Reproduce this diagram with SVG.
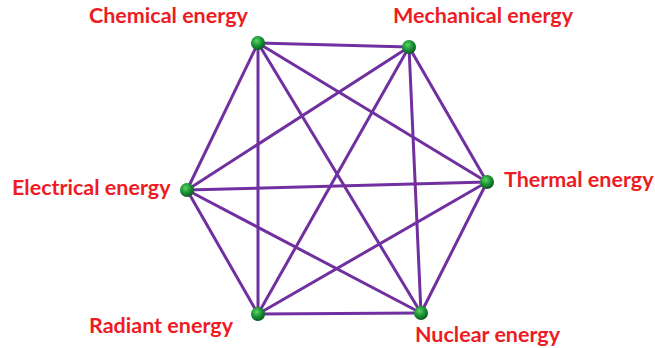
<svg xmlns="http://www.w3.org/2000/svg" width="655" height="348" viewBox="0 0 655 348">
<defs>
<radialGradient id="g" cx="0.4" cy="0.35" r="0.65">
<stop offset="0" stop-color="#5fd35f"/>
<stop offset="0.5" stop-color="#1e9a3a"/>
<stop offset="1" stop-color="#0b5a1e"/>
</radialGradient>
</defs>
<style>
.e{stroke:#7030a0;stroke-width:3;fill:none}
.n{fill:url(#g)}
.t{font-family:Lato,"Open Sans",sans-serif;font-weight:bold;font-size:21.5px;fill:#ed1c24}
</style>
<g id="connectors">
<line class="e" x1="258" y1="43" x2="409" y2="47"/>
<line class="e" x1="258" y1="43" x2="187" y2="190"/>
<line class="e" x1="258" y1="43" x2="487" y2="182"/>
<line class="e" x1="258" y1="43" x2="258" y2="314"/>
<line class="e" x1="258" y1="43" x2="421" y2="313"/>
<line class="e" x1="409" y1="47" x2="187" y2="190"/>
<line class="e" x1="409" y1="47" x2="487" y2="182"/>
<line class="e" x1="409" y1="47" x2="258" y2="314"/>
<line class="e" x1="409" y1="47" x2="421" y2="313"/>
<line class="e" x1="187" y1="190" x2="487" y2="182"/>
<line class="e" x1="187" y1="190" x2="258" y2="314"/>
<line class="e" x1="187" y1="190" x2="421" y2="313"/>
<line class="e" x1="487" y1="182" x2="258" y2="314"/>
<line class="e" x1="487" y1="182" x2="421" y2="313"/>
<line class="e" x1="258" y1="314" x2="421" y2="313"/>
</g>
<g id="chemical"><circle class="n" cx="258" cy="43" r="7"/><text class="t" x="89" y="23">Chemical energy</text></g>
<g id="mechanical"><circle class="n" cx="409" cy="47" r="7"/><text class="t" x="393" y="23">Mechanical energy</text></g>
<g id="electrical"><circle class="n" cx="187" cy="190" r="7"/><text class="t" x="12" y="195">Electrical energy</text></g>
<g id="thermal"><circle class="n" cx="487" cy="182" r="7"/><text class="t" x="504" y="187">Thermal energy</text></g>
<g id="radiant"><circle class="n" cx="258" cy="314" r="7"/><text class="t" x="89" y="333">Radiant energy</text></g>
<g id="nuclear"><circle class="n" cx="421" cy="313" r="7"/><text class="t" x="415" y="342">Nuclear energy</text></g>
</svg>
